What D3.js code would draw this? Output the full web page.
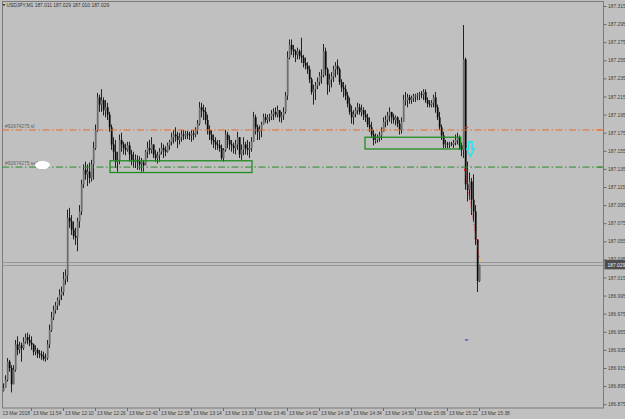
<!DOCTYPE html>
<html>
<head>
<meta charset="utf-8">
<script src="https://cdn.jsdelivr.net/npm/d3@7/dist/d3.min.js"></script>
<style>
  html, body { margin: 0; padding: 0; background: #c0c0c0; }
  svg { display: block; font-family: "Liberation Sans", Arial, sans-serif; }
</style>
</head>
<body>
<div id="chart"></div>
<script>
// USDJPY M1, 13 Mar 2018 (bars open at previous close)
var symbol = "USDJPY,M1";
var firstOpen = 186.890;
var firstMinute = 2; // minutes after 11:38 of the first bar

var highs = [
  186.898,186.907,186.926,186.924,186.918,186.918,186.946,186.950,186.944,186.943,
  186.949,186.953,186.954,186.952,186.950,186.942,186.940,186.937,186.935,186.934,
  186.933,186.931,186.946,186.963,186.977,186.984,186.988,186.993,187.002,187.005,
  187.021,187.024,187.090,187.092,187.084,187.077,187.070,187.081,187.095,187.123,
  187.140,187.143,187.140,187.142,187.145,187.165,187.184,187.219,187.217,187.223,
  187.214,187.211,187.208,187.198,187.184,187.170,187.167,187.154,187.173,187.175,
  187.165,187.163,187.165,187.165,187.156,187.154,187.151,187.150,187.149,187.147,
  187.145,187.156,187.165,187.167,187.170,187.162,187.156,187.154,187.158,187.164,
  187.162,187.160,187.164,187.167,187.175,187.178,187.181,187.176,187.175,187.178,
  187.178,187.177,187.177,187.176,187.178,187.178,187.181,187.189,187.209,187.208,
  187.206,187.203,187.195,187.183,187.178,187.173,187.170,187.167,187.167,187.162,
  187.158,187.178,187.176,187.172,187.167,187.164,187.167,187.176,187.170,187.162,
  187.170,187.165,187.167,187.165,187.170,187.198,187.195,187.184,187.183,187.187,
  187.196,187.196,187.195,187.196,187.200,187.202,187.203,187.205,187.200,187.198,
  187.203,187.220,187.265,187.278,187.278,187.272,187.267,187.269,187.267,187.280,
  187.261,187.258,187.253,187.249,187.236,187.228,187.231,187.236,187.242,187.245,
  187.273,187.269,187.247,187.240,187.242,187.249,187.253,187.256,187.247,187.234,
  187.231,187.228,187.220,187.214,187.205,187.200,187.203,187.208,187.207,187.206,
  187.203,187.200,187.196,187.192,187.187,187.178,187.174,187.173,187.176,187.181,
  187.192,187.194,187.198,187.203,187.198,187.196,187.194,187.193,187.189,187.192,
  187.217,187.220,187.218,187.217,187.216,187.218,187.218,187.219,187.220,187.221,
  187.223,187.223,187.214,187.211,187.211,187.217,187.220,187.206,187.198,187.184,
  187.176,187.167,187.165,187.165,187.165,187.167,187.173,187.175,187.172,187.164,
  187.294,187.258,187.143,187.131,187.125,187.129,187.095,187.057,187.029
];

var lows = [
  186.889,186.893,186.900,186.911,186.888,186.898,186.911,186.929,186.931,186.922,
  186.935,186.942,186.941,186.939,186.935,186.929,186.929,186.926,186.926,186.924,
  186.923,186.922,186.924,186.937,186.955,186.968,186.975,186.979,186.984,186.990,
  186.995,187.007,187.010,187.070,187.062,187.057,187.051,187.044,187.070,187.084,
  187.114,187.123,187.116,187.119,187.121,187.123,187.156,187.176,187.198,187.198,
  187.194,187.192,187.189,187.176,187.156,187.145,187.136,187.132,187.140,187.154,
  187.151,187.150,187.154,187.143,187.139,187.136,187.136,187.134,187.134,187.132,
  187.132,187.143,187.147,187.151,187.152,187.147,187.143,187.141,187.143,187.151,
  187.147,187.149,187.153,187.156,187.161,187.163,187.165,187.158,187.162,187.165,
  187.167,187.168,187.168,187.167,187.165,187.167,187.170,187.173,187.183,187.192,
  187.189,187.184,187.173,187.167,187.162,187.158,187.156,187.156,187.154,187.145,
  187.143,187.154,187.158,187.156,187.154,187.152,187.151,187.156,187.147,187.145,
  187.150,187.151,187.150,187.147,187.154,187.167,187.173,187.167,187.167,187.170,
  187.184,187.186,187.185,187.187,187.189,187.189,187.192,187.192,187.187,187.186,
  187.189,187.196,187.211,187.256,187.261,187.258,187.253,187.256,187.256,187.252,
  187.247,187.245,187.240,187.230,187.217,187.206,187.211,187.223,187.227,187.229,
  187.236,187.238,187.217,187.220,187.225,187.231,187.236,187.239,187.228,187.220,
  187.214,187.211,187.203,187.195,187.185,187.184,187.192,187.195,187.195,187.193,
  187.189,187.187,187.181,187.176,187.170,187.161,187.163,187.164,187.165,187.167,
  187.176,187.181,187.183,187.187,187.185,187.185,187.183,187.181,187.173,187.174,
  187.187,187.205,187.203,187.207,187.207,187.209,187.209,187.211,187.211,187.213,
  187.211,187.208,187.203,187.203,187.203,187.203,187.197,187.189,187.178,187.167,
  187.158,187.158,187.158,187.158,187.160,187.158,187.161,187.162,187.156,187.149,
  187.147,187.112,187.099,187.101,187.084,187.077,187.051,186.999,187.010
];

var closes = [
  186.893,186.902,186.922,186.915,186.897,186.913,186.941,186.935,186.940,186.937,
  186.944,186.949,186.946,186.943,186.941,186.933,186.935,186.931,186.930,186.928,
  186.925,186.926,186.941,186.957,186.971,186.979,186.984,186.990,186.996,186.999,
  187.013,187.017,187.081,187.077,187.068,187.061,187.059,187.077,187.088,187.118,
  187.134,187.129,187.132,187.125,187.140,187.158,187.178,187.214,187.206,187.211,
  187.200,187.203,187.195,187.181,187.162,187.154,187.143,187.145,187.167,187.162,
  187.158,187.156,187.161,187.151,187.145,187.143,187.145,187.143,187.140,187.142,
  187.139,187.154,187.158,187.156,187.162,187.151,187.147,187.150,187.154,187.158,
  187.156,187.154,187.161,187.165,187.170,187.173,187.171,187.167,187.170,187.173,
  187.172,187.174,187.173,187.172,187.174,187.173,187.178,187.185,187.203,187.200,
  187.198,187.189,187.178,187.173,187.167,187.165,187.162,187.161,187.158,187.147,
  187.156,187.173,187.167,187.162,187.161,187.158,187.162,187.170,187.151,187.156,
  187.162,187.158,187.156,187.158,187.165,187.192,187.181,187.176,187.178,187.184,
  187.192,187.189,187.192,187.193,187.196,187.198,187.195,187.200,187.192,187.194,
  187.198,187.216,187.258,187.272,187.267,187.265,187.261,187.265,187.260,187.258,
  187.252,187.249,187.245,187.234,187.220,187.223,187.227,187.231,187.238,187.239,
  187.265,187.245,187.228,187.234,187.237,187.245,187.249,187.245,187.231,187.225,
  187.223,187.216,187.207,187.198,187.192,187.196,187.200,187.203,187.198,187.200,
  187.195,187.192,187.184,187.181,187.173,187.167,187.167,187.170,187.172,187.176,
  187.187,187.189,187.194,187.198,187.192,187.189,187.192,187.185,187.178,187.187,
  187.211,187.211,187.214,187.211,187.213,187.215,187.216,187.217,187.218,187.217,
  187.220,187.211,187.207,187.206,187.208,187.214,187.203,187.192,187.181,187.172,
  187.162,187.163,187.162,187.163,187.162,187.164,187.167,187.170,187.161,187.156,
  187.256,187.118,187.112,187.121,187.101,187.088,187.057,187.011,187.029
];

// time axis (minutes after 11:38)
var timeTicks = [0,16,32,48,64,80,96,112,128,144,160,176,192,208,224,240];
var timeLabels = ["13 Mar 2018","13 Mar 11:54","13 Mar 12:10","13 Mar 12:26","13 Mar 12:42",
  "13 Mar 12:58","13 Mar 13:14","13 Mar 13:30","13 Mar 13:46","13 Mar 14:02","13 Mar 14:18",
  "13 Mar 14:34","13 Mar 14:50","13 Mar 15:06","13 Mar 15:22","13 Mar 15:38"];

var priceTicks = [187.315,187.295,187.275,187.255,187.235,187.215,187.195,187.175,187.155,187.135,
  187.115,187.095,187.075,187.055,187.035,187.015,186.995,186.975,186.955,186.935,186.915,186.895,186.875];

// order lines and objects
var slLevel = 187.178, slText = "#92674275 sl";
var sellLevel = 187.137, sellText = "#92674275 sell";
var bid = 187.029, ask = 187.032;
var zones = [
  { t0: 55.5, t1: 126.5, top: 187.144, bottom: 187.131 },
  { t0: 183, t1: 230.85, top: 187.170, bottom: 187.157 }
];
var arrowSignal = { t: 235.7, top: 187.165, tip: 187.149 };
var trendLine = { t0: 233, p0: 187.134, t1: 240.3, p1: 187.035 };
var blueMark = { t0: 233, t1: 234.6, p: 186.946 };
var redMark = { t0: 233, t1: 234.6, p: 187.181 };

var W = 625, H = 419;
var frame = { left: 2, right: 603.5, top: 1.5, bottom: 408 };
var fontSize = 4.9;

var svg = d3.select('#chart').append('svg')
  .attr('width', W).attr('height', H);

svg.append('rect').attr('width', W).attr('height', H).attr('fill', '#c0c0c0');

var x = d3.scaleLinear().domain([2, 240]).range([3, 479]);
var y = d3.scaleLinear().domain([186.875, 187.315]).range([404.2, 6]);

var bars = closes.map(function (c, i) {
  var o = i === 0 ? firstOpen : closes[i - 1];
  return { t: firstMinute + i, o: o, h: Math.max(highs[i], o, c), l: Math.min(lows[i], o, c), c: c };
});

// frame
svg.append('rect')
  .attr('x', frame.left + 0.5).attr('y', frame.top)
  .attr('width', frame.right - frame.left - 0.5).attr('height', frame.bottom - frame.top)
  .attr('fill', 'none').attr('stroke', '#7a7a7a').attr('stroke-width', 1);

// bid / ask lines
svg.selectAll('.quote').data([ask, bid]).enter().append('line')
  .attr('x1', frame.left).attr('x2', frame.right)
  .attr('y1', function (d) { return Math.round(y(d)) + 0.5; })
  .attr('y2', function (d) { return Math.round(y(d)) + 0.5; })
  .attr('stroke', '#8c8c8c').attr('stroke-width', 0.8);

// candles
var candles = svg.append('g').attr('class', 'series');
candles.selectAll('line').data(bars).enter().append('line')
  .attr('x1', function (d) { return x(d.t) + 0.5; })
  .attr('x2', function (d) { return x(d.t) + 0.5; })
  .attr('y1', function (d) { return y(d.h); })
  .attr('y2', function (d) { return y(d.l); })
  .attr('stroke', '#222').attr('stroke-width', 1);
candles.selectAll('rect').data(bars).enter().append('rect')
  .attr('x', function (d) { return x(d.t) - 0.2; })
  .attr('width', 1.8)
  .attr('y', function (d) { return y(Math.max(d.o, d.c)); })
  .attr('height', function (d) { return Math.max(0.8, Math.abs(y(d.o) - y(d.c))); })
  .attr('fill', function (d) { return d.c >= d.o ? '#6e6e6e' : '#0a0a0a'; });

// order levels
var dashDot = '7,2.5,1.5,2.5';
svg.append('line')
  .attr('x1', frame.left).attr('x2', frame.right)
  .attr('y1', y(slLevel)).attr('y2', y(slLevel))
  .attr('stroke', '#ec6a2c').attr('stroke-width', 1).attr('stroke-dasharray', dashDot);
svg.append('line')
  .attr('x1', frame.left).attr('x2', frame.right)
  .attr('y1', y(sellLevel)).attr('y2', y(sellLevel))
  .attr('stroke', '#2e8a2e').attr('stroke-width', 1).attr('stroke-dasharray', dashDot);

svg.append('text').attr('x', 5).attr('y', y(slLevel) - 1.6)
  .attr('font-size', fontSize).attr('fill', '#5e5e5e').text(slText);
svg.append('text').attr('x', 5).attr('y', y(sellLevel) - 1.6)
  .attr('font-size', fontSize).attr('fill', '#5e5e5e').text(sellText);
svg.append('ellipse').attr('cx', 42.5).attr('cy', y(sellLevel) - 2)
  .attr('rx', 7.5).attr('ry', 4).attr('fill', '#ffffff');

// right edge level markers
svg.append('line').attr('x1', 598).attr('x2', 602)
  .attr('y1', y(slLevel)).attr('y2', y(slLevel)).attr('stroke', '#ec6a2c').attr('stroke-width', 1);
svg.append('line').attr('x1', 598).attr('x2', 602)
  .attr('y1', y(sellLevel)).attr('y2', y(sellLevel)).attr('stroke', '#2e8a2e').attr('stroke-width', 1);

// zones
svg.selectAll('.zone').data(zones).enter().append('rect')
  .attr('class', 'zone')
  .attr('x', function (d) { return x(d.t0); })
  .attr('y', function (d) { return y(d.top); })
  .attr('width', function (d) { return x(d.t1) - x(d.t0); })
  .attr('height', function (d) { return y(d.bottom) - y(d.top); })
  .attr('fill', 'none').attr('stroke', '#1f8c1f').attr('stroke-width', 1.3);

// red dotted trend line
svg.append('line')
  .attr('x1', x(trendLine.t0)).attr('y1', y(trendLine.p0))
  .attr('x2', x(trendLine.t1)).attr('y2', y(trendLine.p1))
  .attr('stroke', '#ff1a1a').attr('stroke-width', 0.9).attr('stroke-dasharray', '1,1.5');
svg.append('rect').attr('x', x(trendLine.t0) - 1).attr('y', y(trendLine.p0) - 1)
  .attr('width', 2).attr('height', 2).attr('fill', '#ff0000');
svg.append('rect').attr('x', x(trendLine.t1) - 0.5).attr('y', y(trendLine.p1) - 1)
  .attr('width', 1.5).attr('height', 2).attr('fill', '#ffcc33');

// small marks
svg.append('line').attr('x1', x(blueMark.t0)).attr('x2', x(blueMark.t1))
  .attr('y1', y(blueMark.p)).attr('y2', y(blueMark.p)).attr('stroke', '#1030ff').attr('stroke-width', 1);
svg.append('line').attr('x1', x(redMark.t0)).attr('x2', x(redMark.t1))
  .attr('y1', y(redMark.p)).attr('y2', y(redMark.p)).attr('stroke', '#e82020').attr('stroke-width', 1);

// cyan sell arrow
(function () {
  var cx = x(arrowSignal.t), y0 = y(arrowSignal.top), y1 = y(arrowSignal.tip);
  var mid = y0 + (y1 - y0) * 0.5;
  var p = d3.path();
  p.moveTo(cx - 1.7, y0); p.lineTo(cx + 1.7, y0); p.lineTo(cx + 1.7, mid);
  p.lineTo(cx + 3.8, mid); p.lineTo(cx, y1); p.lineTo(cx - 3.8, mid);
  p.lineTo(cx - 1.7, mid); p.closePath();
  svg.append('path').attr('d', p.toString())
    .attr('fill', 'none').attr('stroke', '#19e6f0').attr('stroke-width', 1.3);
})();

// price axis
var yAxis = d3.axisRight(y).tickValues(priceTicks).tickSize(3).tickPadding(1.5)
  .tickFormat(d3.format('.3f'));
var gy = svg.append('g').attr('transform', 'translate(' + frame.right + ',0)').call(yAxis);
gy.select('.domain').remove();
gy.selectAll('line').attr('stroke', '#6a6a6a');
gy.selectAll('text').attr('font-size', fontSize).attr('fill', '#404040').attr('font-family', '"Liberation Sans", Arial, sans-serif');

// time axis
var xAxis = d3.axisBottom(x).tickValues(timeTicks).tickSize(3).tickPadding(1)
  .tickFormat(function (d, i) { return timeLabels[i]; });
var gx = svg.append('g').attr('transform', 'translate(0,' + frame.bottom + ')').call(xAxis);
gx.select('.domain').remove();
gx.selectAll('line').attr('stroke', '#6a6a6a');
gx.selectAll('text').attr('font-size', fontSize).attr('fill', '#404040')
  .attr('font-family', '"Liberation Sans", Arial, sans-serif')
  .attr('text-anchor', 'start')
  .attr('x', function (d, i) { return i === 0 ? 3 : 1.5; });

// current bid label
var last = bars[bars.length - 1];
svg.append('rect').attr('x', frame.right + 1).attr('y', y(bid) - 5)
  .attr('width', W - frame.right - 1).attr('height', 9.5).attr('fill', '#4e4e4e');
svg.append('text').attr('x', frame.right + 4).attr('y', y(bid) + 1.8)
  .attr('font-size', fontSize).attr('fill', '#ececec').text(d3.format('.3f')(bid));

// header
var fmt = d3.format('.3f');
svg.append('path').attr('d', 'M2.6,4 L5.4,4 L4,6.2 Z').attr('fill', '#333');
svg.append('text').attr('x', 6.5).attr('y', 6.8).attr('font-size', fontSize).attr('fill', '#333')
  .text(symbol + '  ' + fmt(last.o) + ' ' + fmt(last.h) + ' ' + fmt(last.l) + ' ' + fmt(last.c));
</script>
</body>
</html>
